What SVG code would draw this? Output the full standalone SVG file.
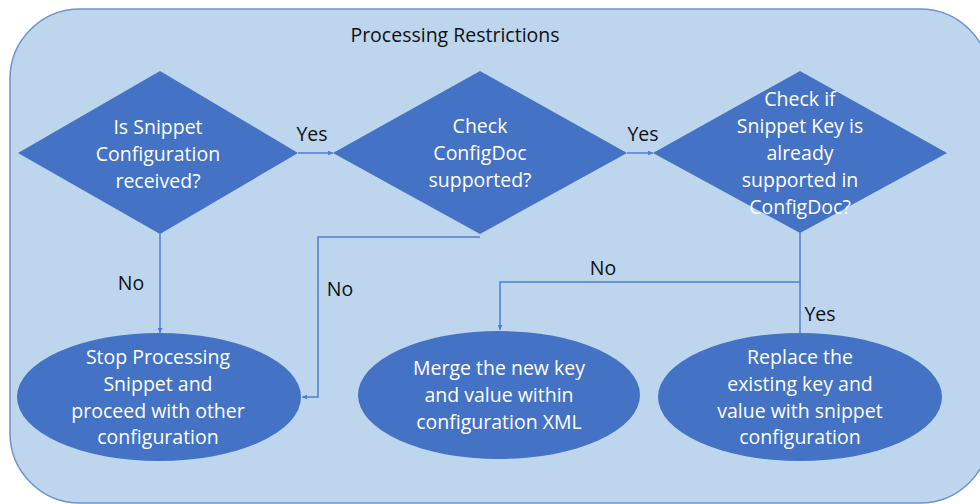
<svg xmlns="http://www.w3.org/2000/svg" width="980" height="504" viewBox="0 0 980 504">
<defs>
<style>
.bg{fill:#bdd6ee;stroke:#6f93cc;stroke-width:1.5}
.node{fill:#4472c4}
.nt{font-family:"Open Sans","Liberation Sans",sans-serif;font-size:19.5px;fill:#ffffff;text-anchor:middle}
.lbl{font-family:"Open Sans","Liberation Sans",sans-serif;font-size:19.5px;fill:#111111;text-anchor:middle}
.con{fill:none;stroke:#4f7fd0;stroke-width:1.5}
</style>
<marker id="ah" viewBox="0 0 10 10" refX="10" refY="5" markerWidth="5" markerHeight="5" orient="auto" markerUnits="userSpaceOnUse">
<path d="M0,0 L10,5 L0,10 z" fill="#4f7fd0"/>
</marker>
</defs>
<rect class="bg" x="10" y="9" width="980" height="494" rx="70" ry="70"/>
<text class="lbl" x="455" y="42">Processing Restrictions</text>

<g id="connectors">
<path class="con" d="M298,153 H333" marker-end="url(#ah)"/>
<path class="con" d="M627,153 H653" marker-end="url(#ah)"/>
<path class="con" d="M160,234 V333" marker-end="url(#ah)"/>
<path class="con" d="M480,237 H318 V397 H302" marker-end="url(#ah)"/>
<path class="con" d="M800,233 V282 H500 V330" marker-end="url(#ah)"/>
<path class="con" d="M800,282 V333"/>
<text class="lbl" x="312" y="141">Yes</text>
<text class="lbl" x="643" y="141">Yes</text>
<text class="lbl" x="131" y="290">No</text>
<text class="lbl" x="340" y="296">No</text>
<text class="lbl" x="603" y="275">No</text>
<text class="lbl" x="820" y="321">Yes</text>
</g>

<g id="d1">
<polygon class="node" points="18,153 160,71 298,153 160,234"/>
<text class="nt" x="158" y="134">Is Snippet</text>
<text class="nt" x="158" y="161">Configuration</text>
<text class="nt" x="158" y="188">received?</text>
</g>
<g id="d2">
<polygon class="node" points="333,153 480,71 627,153 480,234"/>
<text class="nt" x="480" y="133">Check</text>
<text class="nt" x="480" y="160">ConfigDoc</text>
<text class="nt" x="480" y="187">supported?</text>
</g>
<g id="d3">
<polygon class="node" points="653,153 800,71 947,153 800,233"/>
<text class="nt" x="800" y="106">Check if</text>
<text class="nt" x="800" y="133">Snippet Key is</text>
<text class="nt" x="800" y="160">already</text>
<text class="nt" x="800" y="187">supported in</text>
<text class="nt" x="800" y="214">ConfigDoc?</text>
</g>
<g id="e1">
<ellipse class="node" cx="159" cy="397" rx="142" ry="64"/>
<text class="nt" x="158" y="364">Stop Processing</text>
<text class="nt" x="158" y="391">Snippet and</text>
<text class="nt" x="158" y="418">proceed with other</text>
<text class="nt" x="158" y="444">configuration</text>
</g>
<g id="e2">
<ellipse class="node" cx="499" cy="395" rx="141" ry="64"/>
<text class="nt" x="499" y="375">Merge the new key</text>
<text class="nt" x="499" y="402">and value within</text>
<text class="nt" x="499" y="429">configuration XML</text>
</g>
<g id="e3">
<ellipse class="node" cx="800" cy="397" rx="142" ry="64"/>
<text class="nt" x="800" y="364">Replace the</text>
<text class="nt" x="800" y="391">existing key and</text>
<text class="nt" x="800" y="418">value with snippet</text>
<text class="nt" x="800" y="444">configuration</text>
</g>
</svg>
